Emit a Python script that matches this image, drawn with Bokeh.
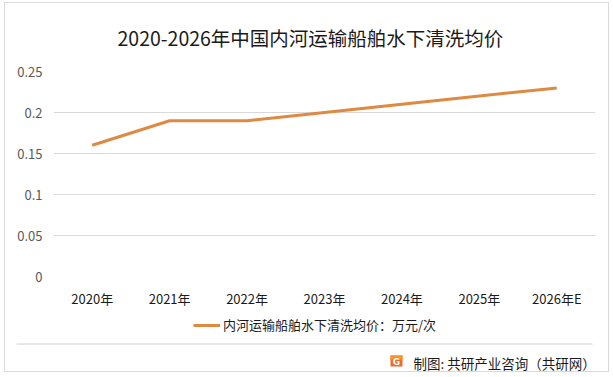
from bokeh.plotting import figure
from bokeh.layouts import column
from bokeh.models import (FactorRange, Range1d, FixedTicker, NumeralTickFormatter,
                          Legend, LegendItem, InlineStyleSheet)
from bokeh.core.properties import value
from bokeh.embed import file_html
from bokeh.resources import INLINE

years = ["2020年", "2021年", "2022年", "2023年", "2024年", "2025年", "2026年E"]
prices = [0.16, 0.19, 0.19, 0.20, 0.21, 0.22, 0.23]
y_ticks = [0, 0.05, 0.1, 0.15, 0.2, 0.25]
title_text = "2020-2026年中国内河运输船舶水下清洗均价"
series_name = "内河运输船舶水下清洗均价：万元/次"
source_text = "制图: 共研产业咨询（共研网）"

FONT = "Noto Sans CJK SC"
LINE_COLOR = "#DF8A42"
W, H_MAIN, H_FOOT = 613, 310, 67

p = figure(width=W, height=H_MAIN, x_range=FactorRange(*years, range_padding=0),
           y_range=Range1d(0, 0.25), output_backend="svg", toolbar_location=None,
           min_border_left=53, min_border_right=18, min_border_top=71, min_border_bottom=34,
           title=title_text)
p.frame_align = False

p.title.text_font = FONT
p.title.text_font_size = "19.5px"
p.title.text_font_style = "normal"
p.title.text_color = "#1a1a1a"
p.title.align = "left"
p.title.offset = 64
p.title.standoff = 39

p.outline_line_color = None
p.background_fill_color = "white"
p.border_fill_color = "white"

p.xgrid.grid_line_color = None
p.ygrid.grid_line_color = "#d9d9d9"
p.ygrid.grid_line_width = 1

p.yaxis.ticker = FixedTicker(ticks=y_ticks)
p.yaxis.formatter = NumeralTickFormatter(format="0.[00]")
for ax in (p.xaxis[0], p.yaxis[0]):
    ax.axis_line_color = None
    ax.major_tick_line_color = None
    ax.minor_tick_line_color = None
    ax.major_tick_out = 0
    ax.major_tick_in = 0
    ax.major_label_text_font = FONT
    ax.major_label_text_font_size = "13px"
p.yaxis.major_label_text_color = "#595959"
p.yaxis.major_label_standoff = 11
p.xaxis.major_label_text_color = "#1a1a1a"
p.xaxis.major_label_standoff = 12

p.line(x=years, y=prices, line_color=LINE_COLOR, line_width=3)

# footer strip: legend, separator, logo and source note
f = figure(width=W, height=H_FOOT, x_range=Range1d(0, W), y_range=Range1d(H_FOOT, 0),
           output_backend="svg", toolbar_location=None,
           min_border=0, min_border_left=0, min_border_right=0,
           min_border_top=0, min_border_bottom=0)
f.frame_align = False
f.axis.visible = False
f.grid.visible = False
f.outline_line_color = None
f.background_fill_color = "white"
f.border_fill_color = "white"

key = f.line(x=[-20, -10], y=[-20, -20], line_color=LINE_COLOR, line_width=3)
legend = Legend(items=[LegendItem(label=series_name, renderers=[key])],
                location=(193, 43), orientation="horizontal",
                glyph_width=27, glyph_height=16, label_height=16, label_standoff=3,
                padding=0, margin=0, spacing=0,
                label_text_font=FONT, label_text_font_size="13px",
                label_text_color="#1a1a1a",
                border_line_color=None, background_fill_alpha=0)
f.add_layout(legend)

f.segment(x0=[16], y0=[33.5], x1=[592], y1=[33.5], line_color="#d0d0d0", line_width=1)
f.quad(left=[390], right=[402], top=[45], bottom=[56], fill_color="#F26A2A", line_color=None)
f.quad(left=[390], right=[402], top=[45], bottom=[49], fill_color="#F7951F", line_color=None)
f.text(x=[396], y=[51], text=["G"], text_font=value("DejaVu Sans"), text_font_style="bold",
       text_font_size="9px", text_color="white", text_align="center", text_baseline="middle")
f.text(x=[413], y=[52], text=[source_text], text_font=value(FONT), text_font_size="13.5px",
       text_color="#1a1a1a", text_align="left", text_baseline="middle")

frame_css = InlineStyleSheet(css="""
:host { position: relative; }
:host::after { content: ""; position: absolute; left: 4px; top: 2px; right: 4px; bottom: 5px;
  border: 1px solid #d9d9d9; pointer-events: none; z-index: 10; }
""")
layout = column(p, f, spacing=0, stylesheets=[frame_css])

open("out.html", "w").write(file_html(layout, INLINE))
